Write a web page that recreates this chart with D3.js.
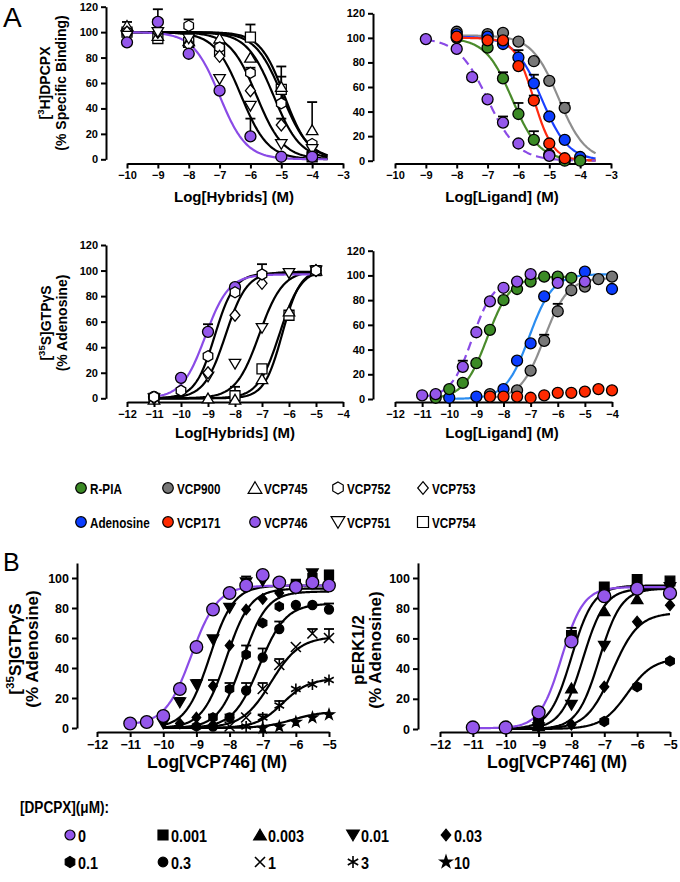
<!DOCTYPE html>
<html><head><meta charset="utf-8">
<script src="https://cdnjs.cloudflare.com/ajax/libs/d3/7.8.5/d3.min.js"></script>
<style>body{margin:0;background:#fff}</style>
</head><body><svg id="c" width="680" height="882"></svg>
<script>
// ===== DATA =====
// Panel A1: [3H]DPCPX binding, hybrids
const a1X = [-10,-9,-8,-7,-6,-5,-4];
const a1_746 = [92,108,83,54,18,2,2];
const a1_745 = [105,97,93,95,80,57,23];
const a1_752 = [100,108,105,88,68,44,12];
const a1_753 = [100,100,90,81,54,27,5];
const a1_751 = [97,100,95,63,42,12,8];
const a1_754 = [100,95,92,85,96,55,2];
const a1_746e = [0,10,0,0,14,0,0];
const a1_745e = [3,0,0,0,0,16,22];
const a1_752e = [0,0,5,0,4,8,0];
const a1_753e = [0,0,0,0,0,5,0];
const a1_754e = [0,0,0,0,10,10,0];
// fit parameters: [logX50, hill, top, bottom, fromLog, toLog]
const a1Fit746 = [-7.0,-1.0,100,0,-10,-3.5];
const a1Fit751 = [-6.3,-1.0,100,0,-10,-3.5];
const a1Fit753 = [-5.8,-1.0,100,0,-10,-3.5];
const a1Fit752 = [-5.25,-1.0,100,0,-10,-3.5];
const a1Fit745 = [-4.97,-1.0,100,0,-10,-3.5];
const a1Fit754 = [-4.9,-1.1,100,0,-10,-3.5];

// Panel A2: [3H]DPCPX binding, ligands
const a2X = [-9,-8,-7.5,-7,-6.5,-6,-5.5,-5,-4.5,-4];
const a2_746 = [99,91,68,50,31,14,null,4,null,null];
const a2_rpia = [null,100,null,92,67,38,17,5,0,0];
const a2_171 = [null,101,null,98,98,77,49,14,2,null];
const a2_ado = [null,103,null,101,95,84,63,36,17,3];
const a2_900 = [null,105,null,103,104,97,81,65,43,null];
const a2_746e = [0,0,0,0,5,0,0,0,0,0];
const a2_rpiae = [0,0,0,0,5,9,7,0,0,0];
const a2_171e = [0,0,0,0,0,0,4,0,0,0];
const a2_adoe = [0,0,0,0,0,6,7,0,0,0];
const a2_900e = [0,0,0,0,0,0,0,0,4,0];
const a2Fit746 = [-7.0,-0.9,100,0,-9,-3.5];
const a2FitRpia = [-6.2,-1.0,100,0,-8,-3.5];
const a2Fit171 = [-5.5,-1.4,100,0,-8,-3.5];
const a2FitAdo = [-5.25,-1.0,101,0,-8,-3.5];
const a2Fit900 = [-4.7,-1.0,102,0,-8,-3.5];

// Panel A3: [35S]GTPgS, hybrids
const a3X = [-11,-10,-9,-8,-7,-6,-5];
const a3_746 = [1,16,52,87,null,null,null];
const a3_752 = [1,6,33,83,97,null,100];
const a3_753 = [0,null,20,65,90,null,100];
const a3_751 = [0,null,17,27,55,98,100];
const a3_754 = [0,null,null,2,23,65,100];
const a3_745 = [-1,null,0,-1,15,68,100];
const a3_746e = [0,0,6,0,0,0,0];
const a3_752e = [0,0,0,0,8,0,0];
const a3_754e = [0,0,0,7,0,0,0];
const a3Fit746 = [-9.1,1.0,97,0,-11,-5];
const a3Fit752 = [-8.75,1.2,98,0,-11,-5];
const a3Fit753 = [-8.35,1.1,99,0,-11,-5];
const a3Fit751 = [-7.1,1.0,100,0,-11,-5];
const a3Fit754 = [-6.35,1.1,101,0,-11,-5];
const a3Fit745 = [-6.25,1.3,101,0,-11,-5];

// Panel A4: [35S]GTPgS, ligands
const a4X = [-11,-10.5,-10,-9.5,-9,-8.5,-8,-7.5,-7,-6.5,-6,-5.5,-5,-4.5,-4];
const a4_746 = [3,4,null,26,54,79,90,95,101,null,94,null,95,null,null];
const a4_rpia = [null,1,8,13,29,56,80,89,95,99,99,98,null,null,null];
const a4_ado = [null,null,1,null,2,null,8,31,45,83,97,null,103,null,89];
const a4_900 = [null,null,null,null,null,4,null,7,23,47,71,88,91,97,99];
const a4_171 = [null,null,null,null,null,2,2,2,1,3,5,5,6,8,7];
const a4_746e = [0,0,0,5,0,0,0,0,0,0,0,0,0,0,0];
const a4_900e = [0,0,0,0,0,0,0,0,0,5,6,0,0,0,0];
const a4Fit746 = [-9.15,1.1,97,1,-11,-5];
const a4FitRpia = [-8.6,1.0,99,0,-10.5,-5.5];
const a4FitAdo = [-7.05,1.0,101,0,-10,-4];
const a4Fit900 = [-6.5,1.0,98,0,-8.5,-4];

// Panel B1: [35S]GTPgS, VCP746 + DPCPX
const b1X = [-11,-10.5,-10,-9.5,-9,-8.5,-8,-7.5,-7,-6.5,-6,-5.5,-5];
const b1_0 = [3,4,8,26,54,79,90,95,102,97,94,97,95];
const b1_0001 = [null,null,null,null,null,null,null,null,null,null,96,100,102];
const b1_001 = [null,null,3,17,29,59,80,97,98,null,null,103,null];
const b1_003 = [null,null,null,3,7,28,55,79,86,90,93,null,null];
const b1_01 = [null,null,null,null,1,7,26,49,70,81,93,null,null];
const b1_03 = [null,null,null,null,null,1,7,25,47,66,82,82,79];
const b1_1 = [null,null,null,null,null,null,1,7,26,42,54,63,60];
const b1_3 = [null,null,null,null,null,null,null,1,7,15,26,29,32];
const b1_10 = [null,null,null,null,null,null,null,null,0,1,4,7,9];
const b1_0001e = [0,0,0,0,0,0,0,0,0,0,0,0,3];
const b1_001e = [0,0,0,3,3,0,0,4,0,0,0,2,0];
const b1_003e = [0,0,0,0,0,4,0,0,0,0,0,0,0];
const b1_01e = [0,0,0,0,0,2,4,6,0,0,0,0,0];
const b1_03e = [0,0,0,0,0,0,2,5,6,5,0,0,4];
const b1_1e = [0,0,0,0,0,0,0,0,4,4,0,3,6];
const b1_3e = [0,0,0,0,0,0,0,0,2,3,0,0,0];
const b1Fit0 = [-9.15,1.1,95,2,-11,-5];
const b1Fit001 = [-8.6,1.2,95,0,-10,-5];
const b1Fit003 = [-8.1,1.2,93,0,-10,-5];
const b1Fit01 = [-7.6,1.2,91,0,-10,-5];
const b1Fit03 = [-7.1,1.1,83,0,-10,-5];
const b1Fit1 = [-6.75,1.0,61,0,-10,-5];
const b1Fit3 = [-6.4,1.1,33,0,-10,-5];
const b1Fit10 = [-6.1,1.0,11,0,-10,-5];

// Panel B2: pERK1/2, VCP746 + DPCPX
const b2X = [-11,-10,-9,-8,-7,-6,-5];
const b2_0 = [1,1,11,58,88,93,90];
const b2_0001 = [null,null,5,62,94,99,98];
const b2_0003 = [null,null,2,27,78,86,92];
const b2_001 = [null,null,1,16,55,92,94];
const b2_003 = [null,null,null,3,28,71,82];
const b2_01 = [null,null,null,null,5,28,45];
const b2_0001e = [0,0,0,5,0,0,0];
const b2Fit0 = [-8.3,1.3,94,0.5,-11,-5];
const b2Fit0001 = [-8.0,1.3,95,0,-10,-5];
const b2Fit0003 = [-7.65,1.3,93,0,-10,-5];
const b2Fit001 = [-7.15,1.3,93,0,-10,-5];
const b2Fit003 = [-6.75,1.1,77,0,-10,-5];
const b2Fit01 = [-6.3,1.1,47,0,-10,-5];

// Ticks and labels
const yTicksA = [0,20,40,60,80,100,120];
const yTicksB = [0,20,40,60,80,100];
const xTicksA1 = [-10,-9,-8,-7,-6,-5,-4,-3];
const xTicksA3 = [-12,-11,-10,-9,-8,-7,-6,-5,-4];
const xTicksB = [-12,-11,-10,-9,-8,-7,-6,-5];
const legendA = ["R-PIA","VCP900","VCP745","VCP752","VCP753","Adenosine","VCP171","VCP746","VCP751","VCP754"];
const legendBTitle = "[DPCPX](\u03bcM):";
const legendB = ["0","0.001","0.003","0.01","0.03","0.1","0.3","1","3","10"];

// ===== DRAWING =====
const FONT = "'Liberation Sans', Arial, Helvetica, sans-serif";
const C = {purple:"#9457eb", purpleLine:"#8a4be6", green:"#3b8a25", greenLine:"#4a8b2b",
  gray:"#787878", grayLine:"#8e8e8e", red:"#ff2a00", redLine:"#ff2a10",
  blue:"#0b3dff", blueLine:"#1a40ff", blueLine2:"#2b8df0"};
const svg = d3.select("#c");
svg.append("rect").attr("width",680).attr("height",882).attr("fill","#fff");

function addText(parent, x, y, segs, o){
  o = o || {};
  const size = o.size || 12;
  let tr = `translate(${x},${y})`;
  if (o.rot) tr += ` rotate(${o.rot})`;
  if (o.sx) tr += ` scale(${o.sx},1)`;
  const t = parent.append("text").attr("transform", tr)
    .attr("font-family", FONT).attr("font-size", size)
    .attr("font-weight", o.weight || "bold").attr("text-anchor", o.anchor || "start").attr("fill","#000");
  if (typeof segs === "string") { t.text(segs); return t; }
  let shift = 0;
  segs.forEach(s => {
    const sup = s[1];
    const target = sup ? -size*0.4 : 0;
    const ts = t.append("tspan").text(s[0]).attr("dy", target - shift);
    if (sup) ts.attr("font-size", size*0.68);
    shift = target;
  });
  return t;
}

function markerPath(shape, r){
  switch(shape){
    case "triUp": return `M0,${-r*1.05}L${r*1.15},${r*0.9}L${-r*1.15},${r*0.9}Z`;
    case "triDown": return `M0,${r*1.05}L${r*1.15},${-r*0.9}L${-r*1.15},${-r*0.9}Z`;
    case "square": return `M${-r},${-r}h${2*r}v${2*r}h${-2*r}Z`;
    case "diamond": return `M0,${-r*1.2}L${r},0L0,${r*1.2}L${-r},0Z`;
    case "hex": {
      const pts = d3.range(6).map(k => { const a = (-90 + 60*k)*Math.PI/180; return [r*1.1*Math.cos(a), r*1.1*Math.sin(a)]; });
      return "M" + pts.map(p => p[0].toFixed(2)+","+p[1].toFixed(2)).join("L") + "Z";
    }
    case "cross": return `M${-r},${-r}L${r},${r}M${r},${-r}L${-r},${r}`;
    case "aster": {
      let d = "";
      [90,30,-30].forEach(a => { const c = Math.cos(a*Math.PI/180)*r, s = Math.sin(a*Math.PI/180)*r; d += `M${-c},${-s}L${c},${s}`; });
      return d;
    }
    case "star": return d3.symbol(d3.symbolStar, (r*r)/0.8908130915292852)();
  }
}

function marker(g, shape, cx, cy, r, fill, sw){
  sw = sw || 1.3;
  if (shape === "circle") {
    g.append("circle").attr("cx",cx).attr("cy",cy).attr("r",r).attr("fill",fill).attr("stroke","#000").attr("stroke-width",sw);
    return;
  }
  const p = g.append("path").attr("transform",`translate(${cx},${cy})`).attr("d", markerPath(shape, r));
  if (shape === "cross" || shape === "aster") p.attr("fill","none").attr("stroke","#000").attr("stroke-width",1.6);
  else p.attr("fill",fill).attr("stroke","#000").attr("stroke-width",sw).attr("stroke-linejoin","miter");
}

function makePanel(cfg){
  const x = d3.scaleLinear().domain(cfg.xDom).range(cfg.xRng);
  const y = d3.scaleLinear().domain([0, cfg.yRef]).range(cfg.yRng);
  const g = svg.append("g");
  const ya = y.copy().domain([0, cfg.yTop]).range([y(0), y(cfg.yTop)]);
  const gy = g.append("g").attr("transform",`translate(${cfg.yAxisX},0)`)
    .call(d3.axisLeft(ya).tickValues(cfg.yTicks).tickSize(5).tickSizeOuter(0).tickPadding(3).tickFormat(d3.format("d")));
  const gx = g.append("g").attr("transform",`translate(0,${cfg.xAxisY})`)
    .call(d3.axisBottom(x).tickValues(cfg.xTicks).tickSize(5).tickSizeOuter(0).tickPadding(3).tickFormat(d3.format("d")));
  [gy, gx].forEach(a => {
    a.attr("font-family", FONT).attr("font-size", cfg.tickSize).attr("font-weight","bold");
    a.selectAll("path,line").attr("stroke","#000").attr("stroke-width",2);
    a.selectAll("text").attr("fill","#000");
  });
  const curves = g.append("g"), errs = g.append("g"), pts = g.append("g");
  return {x, y, curves, errs, pts};
}

function drawCurve(p, fit, color, dash){
  const [ec, hill, top, bot, x0, x1] = fit;
  const n = 160;
  const data = d3.range(n+1).map(i => { const xv = x0 + (x1-x0)*i/n; return [xv, bot + (top-bot)/(1+Math.pow(10,(ec-xv)*hill))]; });
  const path = p.curves.append("path").attr("d", d3.line().x(d => p.x(d[0])).y(d => p.y(d[1]))(data))
    .attr("fill","none").attr("stroke",color).attr("stroke-width",2.2);
  if (dash) path.attr("stroke-dasharray","9,5");
}

function drawErr(p, xs, vals, errs, cap){
  cap = cap || 5;
  xs.forEach((xv,i) => {
    if (vals[i] == null || !errs[i]) return;
    const px = p.x(xv), y0 = p.y(vals[i]), y1 = p.y(vals[i]+errs[i]);
    p.errs.append("line").attr("x1",px).attr("x2",px).attr("y1",y0).attr("y2",y1).attr("stroke","#000").attr("stroke-width",1.6);
    p.errs.append("line").attr("x1",px-cap).attr("x2",px+cap).attr("y1",y1).attr("y2",y1).attr("stroke","#000").attr("stroke-width",1.8);
  });
}

function drawPts(p, xs, vals, shape, r, fill){
  xs.forEach((xv,i) => { if (vals[i] == null) return; marker(p.pts, shape, p.x(xv), p.y(vals[i]), r, fill); });
}

// ----- Panel A1 -----
const pA1 = makePanel({xDom:[-10,-3], xRng:[127,343], yRef:120, yRng:[159.3,6.7], yTop:120, yTicks:yTicksA, xTicks:xTicksA1, yAxisX:106, xAxisY:163.5, tickSize:11});
[[a1Fit751],[a1Fit753],[a1Fit752],[a1Fit745],[a1Fit754]].forEach(f => drawCurve(pA1, f[0], "#000"));
drawCurve(pA1, a1Fit746, C.purpleLine);
drawErr(pA1, a1X, a1_745, a1_745e); drawErr(pA1, a1X, a1_752, a1_752e); drawErr(pA1, a1X, a1_753, a1_753e);
drawErr(pA1, a1X, a1_754, a1_754e); drawErr(pA1, a1X, a1_746, a1_746e);
drawPts(pA1, a1X, a1_754, "square", 5, "#fff");
drawPts(pA1, a1X, a1_745, "triUp", 5, "#fff");
drawPts(pA1, a1X, a1_752, "hex", 5, "#fff");
drawPts(pA1, a1X, a1_753, "diamond", 5, "#fff");
drawPts(pA1, a1X, a1_751, "triDown", 5, "#fff");
drawPts(pA1, a1X, a1_746, "circle", 5.5, C.purple);

// ----- Panel A2 -----
const pA2 = makePanel({xDom:[-10,-3], xRng:[395,611], yRef:120, yRng:[160.7,13.3], yTop:120, yTicks:yTicksA, xTicks:xTicksA1, yAxisX:373, xAxisY:163.5, tickSize:11});
drawCurve(pA2, a2Fit900, C.grayLine);
drawCurve(pA2, a2FitAdo, C.blueLine);
drawCurve(pA2, a2FitRpia, C.greenLine);
drawCurve(pA2, a2Fit171, C.redLine);
drawCurve(pA2, a2Fit746, C.purpleLine, true);
drawErr(pA2, a2X, a2_900, a2_900e); drawErr(pA2, a2X, a2_ado, a2_adoe); drawErr(pA2, a2X, a2_rpia, a2_rpiae);
drawErr(pA2, a2X, a2_171, a2_171e); drawErr(pA2, a2X, a2_746, a2_746e);
drawPts(pA2, a2X, a2_900, "circle", 5.5, C.gray);
drawPts(pA2, a2X, a2_ado, "circle", 5.5, C.blue);
drawPts(pA2, a2X, a2_rpia, "circle", 5.5, C.green);
drawPts(pA2, a2X, a2_171, "circle", 5.5, C.red);
drawPts(pA2, a2X, a2_746, "circle", 5.5, C.purple);

// ----- Panel A3 -----
const pA3 = makePanel({xDom:[-12,-4], xRng:[127,343], yRef:120, yRng:[398.3,245], yTop:120, yTicks:yTicksA, xTicks:xTicksA3, yAxisX:106, xAxisY:402, tickSize:11});
drawCurve(pA3, a3Fit752, "#000"); drawCurve(pA3, a3Fit753, "#000"); drawCurve(pA3, a3Fit751, "#000");
drawCurve(pA3, a3Fit754, "#000"); drawCurve(pA3, a3Fit745, "#000");
drawCurve(pA3, a3Fit746, C.purpleLine);
drawErr(pA3, a3X, a3_746, a3_746e); drawErr(pA3, a3X, a3_752, a3_752e); drawErr(pA3, a3X, a3_754, a3_754e);
drawPts(pA3, a3X, a3_746, "circle", 5.5, C.purple);
drawPts(pA3, a3X, a3_754, "square", 5, "#fff");
drawPts(pA3, a3X, a3_745, "triUp", 5, "#fff");
drawPts(pA3, a3X, a3_751, "triDown", 5, "#fff");
drawPts(pA3, a3X, a3_753, "diamond", 5, "#fff");
drawPts(pA3, a3X, a3_752, "hex", 5, "#fff");

// ----- Panel A4 -----
const pA4 = makePanel({xDom:[-12,-4], xRng:[395,612], yRef:120, yRng:[399,250.7], yTop:120, yTicks:yTicksA, xTicks:xTicksA3, yAxisX:373, xAxisY:402, tickSize:11});
drawCurve(pA4, a4Fit900, C.grayLine);
drawCurve(pA4, a4FitAdo, C.blueLine2);
drawCurve(pA4, a4FitRpia, C.greenLine);
drawCurve(pA4, a4Fit746, C.purpleLine, true);
drawErr(pA4, a4X, a4_900, a4_900e); drawErr(pA4, a4X, a4_746, a4_746e);
drawPts(pA4, a4X, a4_900, "circle", 5.5, C.gray);
drawPts(pA4, a4X, a4_ado, "circle", 5.5, C.blue);
drawPts(pA4, a4X, a4_rpia, "circle", 5.5, C.green);
drawPts(pA4, a4X, a4_746, "circle", 5.5, C.purple);
drawPts(pA4, a4X, a4_171, "circle", 5.5, C.red);

// ----- Panel B1 -----
const pB1 = makePanel({xDom:[-12,-5], xRng:[97,329], yRef:100, yRng:[728,578], yTop:110, yTicks:yTicksB, xTicks:xTicksB, yAxisX:77, xAxisY:732, tickSize:12.5});
[b1Fit001,b1Fit003,b1Fit01,b1Fit03,b1Fit1,b1Fit3,b1Fit10].forEach(f => drawCurve(pB1, f, "#000"));
drawCurve(pB1, b1Fit0, C.purpleLine);
drawErr(pB1, b1X, b1_0001, b1_0001e); drawErr(pB1, b1X, b1_001, b1_001e); drawErr(pB1, b1X, b1_003, b1_003e);
drawErr(pB1, b1X, b1_01, b1_01e); drawErr(pB1, b1X, b1_03, b1_03e); drawErr(pB1, b1X, b1_1, b1_1e); drawErr(pB1, b1X, b1_3, b1_3e);
drawPts(pB1, b1X, b1_0001, "square", 4.5, "#000");
drawPts(pB1, b1X, b1_001, "triDown", 5, "#000");
drawPts(pB1, b1X, b1_003, "diamond", 4.3, "#000");
drawPts(pB1, b1X, b1_01, "hex", 4.3, "#000");
drawPts(pB1, b1X, b1_03, "circle", 4.5, "#000");
drawPts(pB1, b1X, b1_1, "cross", 5, "#000");
drawPts(pB1, b1X, b1_3, "aster", 5.5, "#000");
drawPts(pB1, b1X, b1_10, "star", 5.5, "#000");
drawPts(pB1, b1X, b1_0, "circle", 6.3, C.purple);

// ----- Panel B2 -----
const pB2 = makePanel({xDom:[-12,-5], xRng:[440,670], yRef:100, yRng:[729,578], yTop:110, yTicks:yTicksB, xTicks:xTicksB, yAxisX:418, xAxisY:732, tickSize:12.5});
[b2Fit0001,b2Fit0003,b2Fit001,b2Fit003,b2Fit01].forEach(f => drawCurve(pB2, f, "#000"));
drawCurve(pB2, b2Fit0, C.purpleLine);
drawErr(pB2, b2X, b2_0001, b2_0001e);
drawPts(pB2, b2X, b2_0001, "square", 4.8, "#000");
drawPts(pB2, b2X, b2_0003, "triUp", 5, "#000");
drawPts(pB2, b2X, b2_001, "triDown", 5, "#000");
drawPts(pB2, b2X, b2_003, "diamond", 4.5, "#000");
drawPts(pB2, b2X, b2_01, "hex", 4.5, "#000");
drawPts(pB2, b2X, b2_0, "circle", 6.5, C.purple);

// ----- Titles -----
addText(svg, 3, 27, "A", {size:28, weight:"normal"});
addText(svg, 3, 571, "B", {size:25, weight:"normal"});
addText(svg, 234, 202, "Log[Hybrids] (M)", {size:15, anchor:"middle"});
addText(svg, 502, 202, "Log[Ligand] (M)", {size:15, anchor:"middle"});
addText(svg, 235, 438, "Log[Hybrids] (M)", {size:15, anchor:"middle"});
addText(svg, 502, 438, "Log[Ligand] (M)", {size:15, anchor:"middle"});
addText(svg, 217, 768, "Log[VCP746] (M)", {size:17.5, anchor:"middle"});
addText(svg, 557, 768, "Log[VCP746] (M)", {size:17.5, anchor:"middle"});
addText(svg, 50, 83, [["[",0],["3",1],["H]DPCPX",0]], {size:14, anchor:"middle", rot:-90});
addText(svg, 66, 83, "(% Specific Binding)", {size:14, anchor:"middle", rot:-90});
addText(svg, 51, 323, [["[",0],["35",1],["S]GTP\u03b3S",0]], {size:14, anchor:"middle", rot:-90});
addText(svg, 67, 323, "(% Adenosine)", {size:14, anchor:"middle", rot:-90});
addText(svg, 21, 649, [["[",0],["35",1],["S]GTP\u03b3S",0]], {size:17, anchor:"middle", rot:-90});
addText(svg, 38, 649, "(% Adenosine)", {size:17, anchor:"middle", rot:-90});
addText(svg, 364, 650, "pERK1/2", {size:17, anchor:"middle", rot:-90});
addText(svg, 381, 650, "(% Adenosine)", {size:17, anchor:"middle", rot:-90});

// ----- Legend A -----
const legAStyle = [
  ["circle",C.green,5.3],["circle",C.gray,5.3],["triUp","#fff",6],["hex","#fff",5.5],["diamond","#fff",5.3],
  ["circle",C.blue,5.3],["circle",C.red,5.3],["circle",C.purple,5.3],["triDown","#fff",6],["square","#fff",5.5]];
const legACols = [81,168,255,338,423], legARows = [488,522];
legendA.forEach((lab,i) => {
  const cx = legACols[i%5], cy = legARows[Math.floor(i/5)];
  const s = legAStyle[i];
  marker(svg, s[0], cx, cy, s[2], s[1], 1.2);
  addText(svg, cx+9, cy+5.5, lab, {size:15, sx:0.78});
});

// ----- Legend B -----
addText(svg, 20, 813, legendBTitle, {size:17, sx:0.8});
const legBStyle = [
  ["circle",C.purple,5],["square","#000",5],["triUp","#000",5.5],["triDown","#000",5.5],["diamond","#000",4.8],
  ["hex","#000",5],["circle","#000",4.8],["cross","#000",5],["aster","#000",6],["star","#000",6.5]];
const legBCols = [70,163,260,353,446], legBRows = [835,862];
legendB.forEach((lab,i) => {
  const cx = legBCols[i%5], cy = legBRows[Math.floor(i/5)];
  const s = legBStyle[i];
  marker(svg, s[0], cx, cy, s[2], s[1], 1.2);
  addText(svg, cx+8, cy+7, lab, {size:16, sx:0.9});
});
</script></body></html>
